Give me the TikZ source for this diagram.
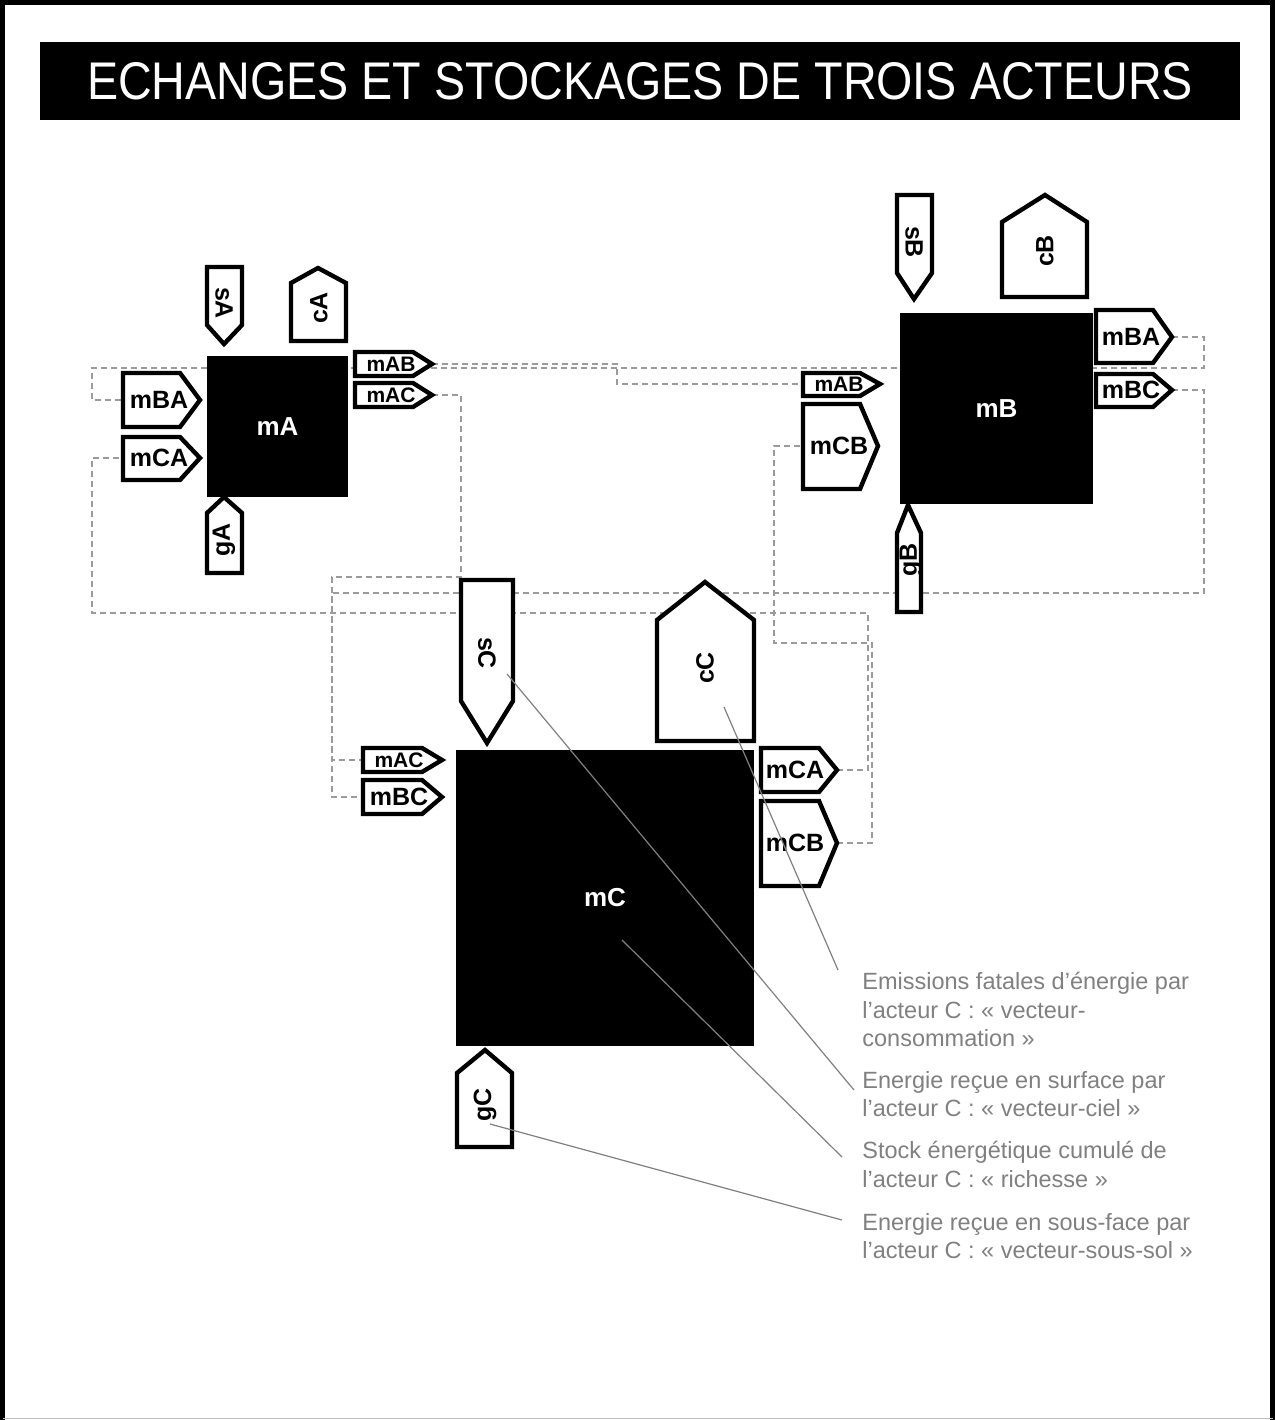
\documentclass[tikz,border=0pt]{standalone}
\usepackage{fontspec}
\setmainfont{Liberation Sans}
\usepackage{graphicx}
\usepackage{tikz}
\usetikzlibrary{calc}
\definecolor{linkgray}{RGB}{155,155,155}
\definecolor{notegray}{RGB}{128,128,128}
\tikzset{
 actor/.style={fill=black,text=white,inner sep=0,font=\bfseries\fontsize{13}{13}\selectfont},
 flowbox/.style={draw,fill=white,line width=2.2pt,line join=miter},
 biglabel/.style={font=\bfseries\fontsize{12.5}{12.5}\selectfont,inner sep=0},
 smalllabel/.style={font=\bfseries\fontsize{10.5}{10.5}\selectfont,inner sep=0},
 link/.style={draw=linkgray,line width=.75pt,dash pattern=on 3pt off 2pt},
 callout/.style={draw=notegray,line width=.6pt},
 note/.style={text=notegray,font=\fontsize{11.75}{14.25}\selectfont,align=left,anchor=north west,inner sep=0},
 titlebar/.style={fill=black,text=white,minimum width=600pt,minimum height=39pt,inner sep=0,font=\fontsize{26.5}{26.5}\selectfont}
}

\begin{document}
\begin{tikzpicture}[x=.5pt,y=-.5pt]
\useasboundingbox (0,0) rectangle (1275,1420);
\draw[line width=2.5pt] (2.5,1420) -- (2.5,2.5) -- (1272.5,2.5) -- (1272.5,1420);
\draw[gray!50,line width=.5pt] (2.5,1418.5) -- (1272.5,1418.5);
\node[titlebar] (title) at (640,81) {\scalebox{.88}[1]{ECHANGES ET STOCKAGES DE TROIS ACTEURS}};

\coordinate (outmABtip) at (432,364);
\coordinate (outmACtip) at (432,395);
\coordinate (inmBAend) at (123,400);
\coordinate (inmCAend) at (123,458);
\coordinate (outmBAtip) at (1172,337);
\coordinate (outmBCtip) at (1172,390);
\coordinate (inmABend) at (803,384);
\coordinate (inmCBend) at (803,446);
\coordinate (inmACend) at (363,760);
\coordinate (inmBCend) at (363,797);
\coordinate (outmCAtip) at (837,770);
\coordinate (outmCBtip) at (837,843);

\draw[link] (outmABtip) -| (617,384) -- (inmABend);
\draw[link] (outmACtip) -| (461,577) -| (332,760) -- (inmACend);
\draw[link] (outmBAtip) -| (1204,368) -| (92,400) -- (inmBAend);
\draw[link] (outmBCtip) -| (1204,593) -| (332,797) -- (inmBCend);
\draw[link] (outmCAtip) -| (868,613) -| (92,458) -- (inmCAend);
\draw[link] (outmCBtip) -| (872,643) -| (774,446) -- (inmCBend);

\node[actor,minimum width=70.5pt,minimum height=70.5pt] (mA) at (277.5,426.5) {mA};
\node[actor,minimum width=96.5pt,minimum height=95.5pt] (mB) at (996.5,408.5) {mB};
\node[actor,minimum width=149pt,minimum height=148pt] (mC) at (605,898) {mC};

\draw[flowbox] (207,267) -- (242,267) -- (242,325) -- (224,344) -- (207,325) -- cycle;
\draw[flowbox] (318,268) -- (346,283) -- (346,341) -- (291,341) -- (291,283) -- cycle;
\draw[flowbox] (224,497) -- (242,513) -- (242,573) -- (207,573) -- (207,513) -- cycle;
\draw[flowbox] (355,352) -- (413,352) -- (outmABtip) -- (413,376) -- (355,376) -- cycle;
\draw[flowbox] (355,383) -- (413,383) -- (outmACtip) -- (413,407) -- (355,407) -- cycle;
\draw[flowbox] (123,373) -- (180,373) -- (200,400) -- (180,427) -- (123,427) -- cycle;
\draw[flowbox] (123,437) -- (180,437) -- (200,458) -- (180,480) -- (123,480) -- cycle;

\draw[flowbox] (897,195) -- (932,195) -- (932,273) -- (914,299) -- (897,273) -- cycle;
\draw[flowbox] (1045,195) -- (1087,222) -- (1087,297) -- (1002,297) -- (1002,222) -- cycle;
\draw[flowbox] (908,505) -- (921,533) -- (921,612) -- (897,612) -- (897,533) -- cycle;
\draw[flowbox] (1096,310) -- (1153,310) -- (outmBAtip) -- (1153,363) -- (1096,363) -- cycle;
\draw[flowbox] (1096,374) -- (1153,374) -- (outmBCtip) -- (1153,407) -- (1096,407) -- cycle;
\draw[flowbox] (803,373) -- (860,373) -- (880,384) -- (860,396) -- (803,396) -- cycle;
\draw[flowbox] (803,404) -- (860,404) -- (878,446) -- (860,489) -- (803,489) -- cycle;

\draw[flowbox] (461,580) -- (513,580) -- (513,701) -- (487,743) -- (461,701) -- cycle;
\draw[flowbox] (705,582) -- (754,620) -- (754,741) -- (657,741) -- (657,620) -- cycle;
\draw[flowbox] (485,1050) -- (512,1073) -- (512,1147) -- (457,1147) -- (457,1073) -- cycle;
\draw[flowbox] (363,748) -- (422,748) -- (442,760) -- (422,772) -- (363,772) -- cycle;
\draw[flowbox] (363,780) -- (422,780) -- (442,797) -- (422,814) -- (363,814) -- cycle;
\draw[flowbox] (761,748) -- (819,748) -- (outmCAtip) -- (819,792) -- (761,792) -- cycle;
\draw[flowbox] (761,801) -- (819,801) -- (outmCBtip) -- (819,886) -- (761,886) -- cycle;

\node[smalllabel] (outmAB) at (391,364) {mAB};
\node[smalllabel] (outmAC) at (391,395) {mAC};
\node[biglabel] (inmBA) at (159,400) {mBA};
\node[biglabel] (inmCA) at (159,458) {mCA};
\node[biglabel,rotate=-90] (sA) at (224,303) {sA};
\node[biglabel,rotate=90] (cA) at (319,308) {cA};
\node[biglabel,rotate=90] (gA) at (224,540) {gA};

\node[biglabel] (outmBA) at (1131,337) {mBA};
\node[biglabel] (outmBC) at (1131,390) {mBC};
\node[smalllabel] (inmAB) at (839,384) {mAB};
\node[biglabel] (inmCB) at (839,446) {mCB};
\node[biglabel,rotate=-90] (sB) at (914,242) {sB};
\node[biglabel,rotate=90] (cB) at (1045,251) {cB};
\node[biglabel,rotate=90] (gB) at (911,560) {gB};

\node[smalllabel] (inmAC) at (399,760) {mAC};
\node[biglabel] (inmBC) at (399,797) {mBC};
\node[biglabel] (outmCA) at (795,770) {mCA};
\node[biglabel] (outmCB) at (795,843) {mCB};
\node[biglabel,rotate=-90] (sC) at (487,653) {sC};
\node[biglabel,rotate=90] (cC) at (705,668) {cC};
\node[biglabel,rotate=90] (gC) at (485,1105) {gC};

\node[note] (noteemis) at (862,972) {Emissions fatales d’énergie par\\l’acteur C : « vecteur-\\consommation »};
\node[note] (notesky) at (862,1071) {Energie reçue en surface par\\l’acteur C : « vecteur-ciel »};
\node[note] (notestock) at (862,1141) {Stock énergétique cumulé de\\l’acteur C : « richesse »};
\node[note] (notesoil) at (862,1213) {Energie reçue en sous-face par\\l’acteur C : « vecteur-sous-sol »};

\coordinate (cCspot) at (724,707);
\coordinate (sCspot) at (507,674);
\coordinate (mCspot) at (622,940);
\coordinate (gCspot) at (490,1124);
\coordinate (emisend) at (838,970);
\coordinate (skyend) at (854,1090);
\coordinate (stockend) at (842,1157);
\coordinate (soilend) at (842,1220);
\draw[callout] (cCspot) -- (emisend);
\draw[callout] (sCspot) -- (skyend);
\draw[callout] (mCspot) -- (stockend);
\draw[callout] (gCspot) -- (soilend);
\end{tikzpicture}
\end{document}
